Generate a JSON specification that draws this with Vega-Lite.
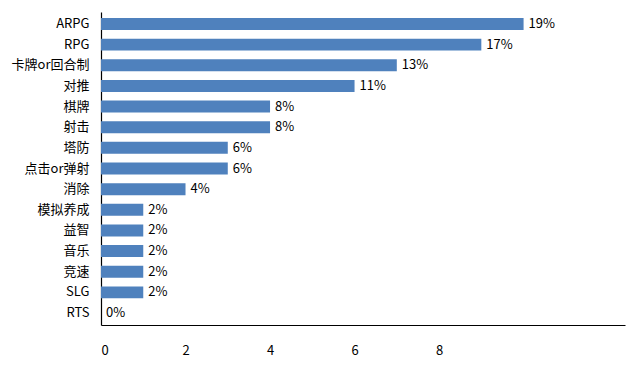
{
  "$schema": "https://vega.github.io/schema/vega-lite/v6.json",
  "width": 524,
  "height": 313,
  "autosize": "none",
  "padding": {"left": 101, "top": 12, "right": 2, "bottom": 41},
  "background": "white",
  "config": {
    "view": {"stroke": null},
    "font": "Noto Sans CJK SC"
  },
  "data": {
    "values": [
      {"genre": "ARPG", "count": 10, "pct": "19%"},
      {"genre": "RPG", "count": 9, "pct": "17%"},
      {"genre": "卡牌or回合制", "count": 7, "pct": "13%"},
      {"genre": "对推", "count": 6, "pct": "11%"},
      {"genre": "棋牌", "count": 4, "pct": "8%"},
      {"genre": "射击", "count": 4, "pct": "8%"},
      {"genre": "塔防", "count": 3, "pct": "6%"},
      {"genre": "点击or弹射", "count": 3, "pct": "6%"},
      {"genre": "消除", "count": 2, "pct": "4%"},
      {"genre": "模拟养成", "count": 1, "pct": "2%"},
      {"genre": "益智", "count": 1, "pct": "2%"},
      {"genre": "音乐", "count": 1, "pct": "2%"},
      {"genre": "竞速", "count": 1, "pct": "2%"},
      {"genre": "SLG", "count": 1, "pct": "2%"},
      {"genre": "RTS", "count": 0, "pct": "0%"}
    ]
  },
  "encoding": {
    "y": {
      "field": "genre",
      "type": "nominal",
      "sort": null,
      "scale": {"paddingInner": 0.42, "paddingOuter": 0.29},
      "axis": {
        "title": null,
        "ticks": false,
        "domainColor": "#000000",
        "domainWidth": 1.2,
        "labelPadding": 12,
        "labelFontSize": 13,
        "labelColor": "#000000",
        "labelFont": "Noto Sans CJK SC"
      }
    },
    "x": {
      "field": "count",
      "type": "quantitative",
      "scale": {"domain": [0, 12.4], "nice": false},
      "axis": {
        "title": null,
        "values": [0, 2, 4, 6, 8],
        "ticks": false,
        "grid": false,
        "domainColor": "#000000",
        "domainWidth": 1.2,
        "labelPadding": 19,
        "labelFontSize": 13,
        "labelColor": "#000000",
        "labelFont": "Noto Sans CJK SC"
      }
    }
  },
  "layer": [
    {"mark": {"type": "bar", "color": "#4F81BD"}},
    {
      "mark": {"type": "text", "align": "left", "dx": 5, "fontSize": 13, "color": "#000000", "font": "Noto Sans CJK SC"},
      "encoding": {"text": {"field": "pct"}}
    }
  ]
}
